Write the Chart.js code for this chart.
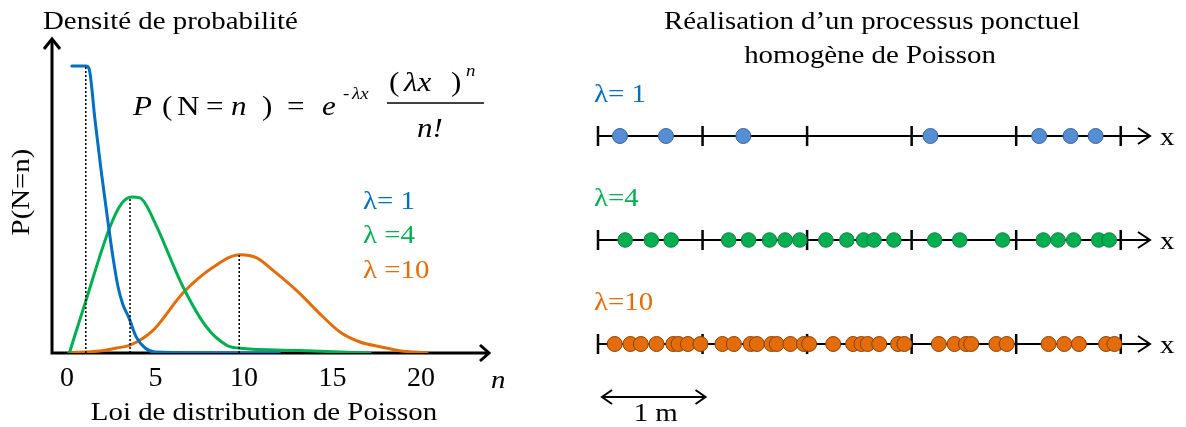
<!DOCTYPE html>
<html>
<head>
<meta charset="utf-8">
<title>Loi de Poisson</title>
<script src="https://cdn.jsdelivr.net/npm/chart.js@4.4.1/dist/chart.umd.min.js"></script>
<style>
  html, body { margin: 0; padding: 0; background: #fff; }
  #wrap { position: relative; width: 1186px; height: 427px; overflow: hidden; }
  .box { position: absolute; top: 0; height: 427px; }
  #left { left: 0; width: 560px; }
  #right { left: 560px; width: 626px; }
</style>
</head>
<body>
<div id="wrap">
  <div class="box" id="left"><canvas id="poissonChart"></canvas></div>
  <div class="box" id="right"><canvas id="processChart"></canvas></div>
</div>
<script>
// values
const nTicks = [0, 5, 10, 15, 20];
const lambdaLabels = ['λ= 1', 'λ =4', 'λ =10'];

// lambda = 1 curve
const l1N = [0.27, 1.07, 1.24, 1.58, 1.92, 2.26, 2.60, 2.88, 3.16, 3.50, 3.90, 4.41, 4.97, 7.5, 12.0];
const l1P = [0.368, 0.368, 0.365, 0.299, 0.235, 0.177, 0.122, 0.085, 0.062, 0.045, 0.021, 0.0064, 0.0013, 0.0004, 0];
// lambda = 4 curve
const l4N = [0.13, 1.02, 2.43, 3.09, 3.66, 4.12, 4.41, 5.07, 6.55, 7.89, 9.02, 9.66, 13.16, 17.12];
const l4P = [0, 0.064, 0.162, 0.192, 0.200, 0.199, 0.192, 0.162, 0.085, 0.033, 0.010, 0.0064, 0.0032, 0];
// lambda = 10 curve
const l10N = [0.11, 1.86, 2.81, 3.56, 4.86, 6.55, 8.25, 9.77, 10.72, 11.64, 12.98, 14.46, 15.42, 16.55, 17.68, 18.81, 20.34];
const l10P = [0.0006, 0.0026, 0.0064, 0.010, 0.029, 0.077, 0.110, 0.126, 0.122, 0.106, 0.080, 0.0465, 0.027, 0.0141, 0.0081, 0.0030, 0];
// dotted lines under each maximum
const modeN = [1.06, 3.56, 9.73];
const modeP = [0.367, 0.200, 0.126];

// point process (positions in metres)
const rowLabels = ['λ= 1', 'λ=4', 'λ=10'];
const rows = [3, 2, 1];
const meterTicks = [0, 1, 2, 3, 4, 5];
const ptsL1 = [0.21, 0.65, 1.39, 3.18, 4.22, 4.52, 4.76];
const ptsL4 = [0.26, 0.51, 0.70, 1.25, 1.44, 1.64, 1.79, 1.93, 2.18, 2.38, 2.54, 2.64, 2.83,
               3.22, 3.46, 3.87, 4.26, 4.40, 4.55, 4.79, 4.89];
const ptsL10 = [0.16, 0.31, 0.41, 0.56, 0.72, 0.77, 0.86, 0.98, 1.19, 1.30, 1.46, 1.52, 1.66, 1.71,
                1.84, 1.97, 2.02, 2.25, 2.44, 2.52, 2.58, 2.69, 2.87, 2.93, 3.26, 3.41, 3.52, 3.57,
                3.81, 3.91, 4.31, 4.46, 4.60, 4.86, 4.94];

const SERIF = '"Liberation Serif", "Times New Roman", serif';
const BLUE = '#0070C0', GREEN = '#00B050', ORANGE = '#E46C0A';
const colors = [BLUE, GREEN, ORANGE];
const STRETCH = 1.11; // the original figure is a bit wider than tall

function pairs(xs, ys) {
    return xs.map((x, i) => ({ x: x, y: ys[i] }));
}

function text(ctx, s, x, y, opts) {
    opts = opts || {};
    ctx.save();
    ctx.font = (opts.italic ? 'italic ' : '') + (opts.size || 26) + 'px ' + SERIF;
    ctx.fillStyle = opts.color || '#000';
    ctx.textAlign = opts.align || 'left';
    ctx.textBaseline = opts.baseline || 'alphabetic';
    ctx.translate(x, y);
    ctx.scale(STRETCH, 1);
    ctx.fillText(s, 0, 0);
    ctx.restore();
}

function curve(xs, ys, color) {
    return {
        data: pairs(xs, ys),
        borderColor: color,
        borderWidth: 3,
        borderCapStyle: 'round',
        pointRadius: 0,
        fill: false,
        cubicInterpolationMode: 'monotone'
    };
}

function dotted(i) {
    return {
        data: [{ x: modeN[i], y: 0 }, { x: modeN[i], y: modeP[i] }],
        borderColor: '#000',
        borderWidth: 1.5,
        borderDash: [2, 2],
        pointRadius: 0,
        tension: 0
    };
}

// axes with arrows, labels and the formula
const poissonDecor = {
    id: 'poissonDecor',
    beforeDatasetsDraw(chart) {
        const ctx = chart.ctx, a = chart.chartArea;
        ctx.save();
        ctx.strokeStyle = '#000';
        ctx.lineWidth = 3;
        ctx.beginPath();
        ctx.moveTo(a.left, a.top + 1);
        ctx.lineTo(a.left, a.bottom);
        ctx.lineTo(a.right - 1, a.bottom);
        ctx.stroke();
        ctx.beginPath();
        ctx.moveTo(a.left - 8, a.top + 11);
        ctx.lineTo(a.left, a.top + 1);
        ctx.lineTo(a.left + 8, a.top + 11);
        ctx.moveTo(a.right - 10, a.bottom - 8);
        ctx.lineTo(a.right - 1, a.bottom);
        ctx.lineTo(a.right - 10, a.bottom + 8);
        ctx.stroke();
        ctx.restore();
    },
    afterDraw(chart) {
        const ctx = chart.ctx, a = chart.chartArea;
        text(ctx, 'Densité de probabilité', 43, 29);
        text(ctx, 'Loi de distribution de Poisson', 264, 420, { align: 'center' });
        text(ctx, 'n', a.right + 1, 388, { italic: true });

        ctx.save();
        ctx.translate(22, 192);
        ctx.rotate(-Math.PI / 2);
        text(ctx, 'P(N=n)', 0, 0, { align: 'center', baseline: 'middle' });
        ctx.restore();

        lambdaLabels.forEach((s, i) => {
            text(ctx, s, 363, [209, 243, 278][i], { color: colors[i] });
        });

        // P ( N =n ) = e^{-λx} (λx)^n / n!
        text(ctx, 'P', 133, 115, { italic: true, size: 28 });
        text(ctx, '(', 162, 115, { size: 28 });
        text(ctx, 'N', 177, 115, { size: 28 });
        text(ctx, '=', 206, 115, { size: 28 });
        text(ctx, 'n', 231, 115, { italic: true, size: 28 });
        text(ctx, ')', 262, 115, { size: 28 });
        text(ctx, '=', 287, 115, { size: 28 });
        text(ctx, 'e', 322, 115, { italic: true, size: 28 });
        text(ctx, '-', 343, 99, { size: 17 });
        text(ctx, 'λx', 352, 99, { italic: true, size: 17 });
        text(ctx, '(', 389, 91, { size: 28 });
        text(ctx, 'λx', 404, 91, { italic: true, size: 28 });
        text(ctx, ')', 451, 91, { size: 28 });
        text(ctx, 'n', 466, 76, { italic: true, size: 17 });
        ctx.save();
        ctx.strokeStyle = '#000';
        ctx.lineWidth = 1.5;
        ctx.beginPath();
        ctx.moveTo(387, 103);
        ctx.lineTo(484, 103);
        ctx.stroke();
        ctx.restore();
        text(ctx, 'n!', 417, 137, { italic: true, size: 28 });
    }
};

// lines, ticks, arrows and labels for the three realisations
const processDecor = {
    id: 'processDecor',
    beforeDatasetsDraw(chart) {
        const ctx = chart.ctx, xs = chart.scales.x, ys = chart.scales.y, a = chart.chartArea;
        ctx.save();
        ctx.strokeStyle = '#000';
        rows.forEach(r => {
            const y = ys.getPixelForValue(r);
            ctx.lineWidth = 2;
            ctx.beginPath();
            ctx.moveTo(xs.getPixelForValue(0), y);
            ctx.lineTo(a.right, y);
            ctx.stroke();
            ctx.beginPath();
            ctx.moveTo(a.right - 12, y - 8);
            ctx.lineTo(a.right, y);
            ctx.lineTo(a.right - 12, y + 8);
            ctx.stroke();
            ctx.lineWidth = 2.5;
            meterTicks.forEach(m => {
                const x = xs.getPixelForValue(m);
                ctx.beginPath();
                ctx.moveTo(x, y - 10);
                ctx.lineTo(x, y + 10);
                ctx.stroke();
            });
        });
        ctx.restore();
    },
    afterDraw(chart) {
        const ctx = chart.ctx, xs = chart.scales.x, ys = chart.scales.y, a = chart.chartArea;
        text(ctx, 'Réalisation d’un processus ponctuel', 312, 29, { align: 'center' });
        text(ctx, 'homogène de Poisson', 310, 63, { align: 'center' });

        rows.forEach((r, i) => {
            const y = ys.getPixelForValue(r);
            text(ctx, rowLabels[i], a.left - 4, y - 34, { color: colors[i] });
            text(ctx, 'x', a.right + 10, y + 9);
        });

        // scale bar: 1 m
        const x0 = xs.getPixelForValue(0) + 4, x1 = xs.getPixelForValue(1) + 3, y = a.bottom + 1;
        ctx.save();
        ctx.strokeStyle = '#000';
        ctx.lineWidth = 2;
        ctx.beginPath();
        ctx.moveTo(x0, y);
        ctx.lineTo(x1, y);
        ctx.moveTo(x0 + 10, y - 7);
        ctx.lineTo(x0, y);
        ctx.lineTo(x0 + 10, y + 7);
        ctx.moveTo(x1 - 10, y - 7);
        ctx.lineTo(x1, y);
        ctx.lineTo(x1 - 10, y + 7);
        ctx.stroke();
        ctx.restore();
        text(ctx, '1 m', (x0 + x1) / 2 + 2, 421, { align: 'center' });
    }
};

document.addEventListener('DOMContentLoaded', function () {
    new Chart(document.getElementById('poissonChart'), {
        type: 'line',
        data: {
            datasets: [
                dotted(0), dotted(1), dotted(2),
                curve(l1N, l1P, BLUE),
                curve(l4N, l4P, GREEN),
                curve(l10N, l10P, ORANGE)
            ]
        },
        options: {
            responsive: true,
            maintainAspectRatio: false,
            animation: false,
            layout: { padding: { left: 52, right: 70, top: 38, bottom: 0 } },
            plugins: { legend: { display: false }, tooltip: { enabled: false } },
            scales: {
                x: {
                    type: 'linear',
                    min: -0.85,
                    max: 23.9,
                    grid: { display: false, drawTicks: false },
                    border: { display: false },
                    afterBuildTicks: s => { s.ticks = nTicks.map(v => ({ value: v })); },
                    afterFit: s => { s.height = 74; },
                    ticks: {
                        font: { family: SERIF, size: 28 },
                        color: '#000',
                        padding: 9,
                        maxRotation: 0,
                        autoSkip: false
                    }
                },
                y: { type: 'linear', min: 0, max: 0.404, display: false }
            }
        },
        plugins: [poissonDecor]
    });

    const dotStyles = [
        { fill: '#558ED5', line: '#3B6496', r: 7.5 },
        { fill: '#00B050', line: '#217A45', r: 7.3 },
        { fill: '#E46C0A', line: '#8A4306', r: 7.5 }
    ];
    const rowPoints = [ptsL1, ptsL4, ptsL10];

    new Chart(document.getElementById('processChart'), {
        type: 'scatter',
        data: {
            datasets: rowPoints.map((pts, i) => ({
                data: pts.map(m => ({ x: m, y: rows[i] })),
                backgroundColor: dotStyles[i].fill,
                borderColor: dotStyles[i].line,
                borderWidth: 1,
                pointRadius: dotStyles[i].r,
                showLine: false
            }))
        },
        options: {
            responsive: true,
            maintainAspectRatio: false,
            animation: false,
            layout: { padding: { left: 38, right: 36, top: 84, bottom: 31 } },
            plugins: { legend: { display: false }, tooltip: { enabled: false } },
            scales: {
                x: { type: 'linear', min: 0, max: 5.28, display: false },
                y: { type: 'linear', min: 0.5, max: 3.5, display: false }
            }
        },
        plugins: [processDecor]
    });
});
</script>
</body>
</html>
